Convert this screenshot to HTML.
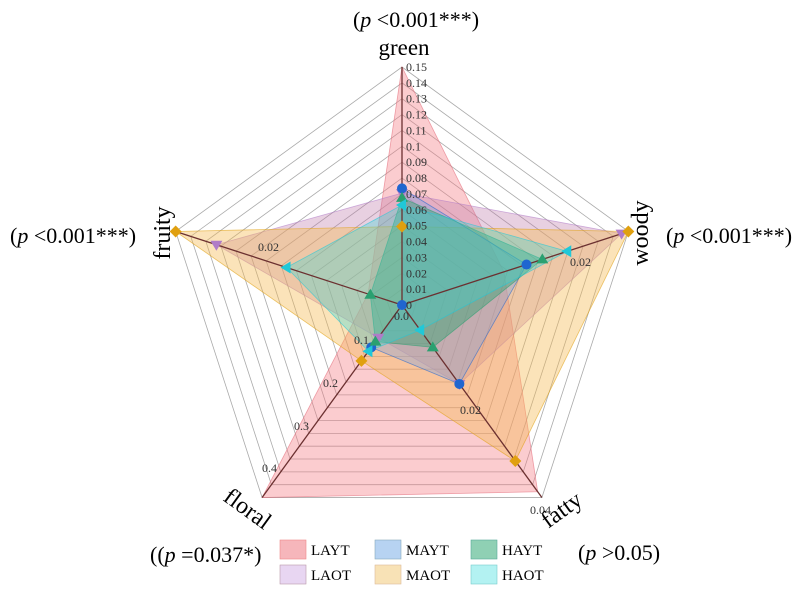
<!DOCTYPE html>
<html><head><meta charset="utf-8"><style>
body{margin:0;background:#fff;}
svg{display:block;font-family:"Liberation Serif",serif;}
</style></head><body>
<svg id="s" width="800" height="595" viewBox="0 0 800 595" xmlns="http://www.w3.org/2000/svg">
<g id="grid"></g><g id="series"></g><g id="marks"></g><g id="ticks" font-size="12" fill="#333"></g>
<g font-size="22" fill="#000">
<text x="416" y="27" text-anchor="middle">(<tspan font-style="italic">p</tspan> &lt;0.001***)</text>
<text x="404" y="55" text-anchor="middle" font-size="23">green</text>
<text transform="translate(648,233) rotate(-90)" text-anchor="middle" font-size="24">woody</text>
<text x="666" y="243">(<tspan font-style="italic">p</tspan> &lt;0.001***)</text>
<text transform="translate(170,233) rotate(-90)" text-anchor="middle" font-size="24">fruity</text>
<text x="10" y="243">(<tspan font-style="italic">p</tspan>  &lt;0.001***)</text>
<text transform="translate(243,515) rotate(36)" text-anchor="middle" font-size="24">floral</text>
<text x="150" y="562">((<tspan font-style="italic">p</tspan> =0.037*)</text>
<text transform="translate(566,516) rotate(-36)" text-anchor="middle" font-size="24">fatty</text>
<text x="578" y="560">(<tspan font-style="italic">p</tspan> &gt;0.05)</text>
</g>
<g font-size="15">
<rect x="280" y="540" width="26" height="19" fill="#f6b6bb" stroke="#e88" stroke-width="0.6"/><text x="311" y="555">LAYT</text>
<rect x="375" y="540" width="26" height="19" fill="#b7d3f2" stroke="#8ab" stroke-width="0.6"/><text x="406" y="555">MAYT</text>
<rect x="471" y="540" width="26" height="19" fill="#8fd0b4" stroke="#5a9" stroke-width="0.6"/><text x="502" y="555">HAYT</text>
<rect x="280" y="565" width="26" height="19" fill="#e8d6f2" stroke="#b9a" stroke-width="0.6"/><text x="311" y="580">LAOT</text>
<rect x="375" y="565" width="26" height="19" fill="#f8e2b6" stroke="#db9" stroke-width="0.6"/><text x="406" y="580">MAOT</text>
<rect x="471" y="565" width="26" height="19" fill="#b3f2f2" stroke="#7cc" stroke-width="0.6"/><text x="502" y="580">HAOT</text>
</g>
</svg>
<script>
const NS="http://www.w3.org/2000/svg",cx=402,cy=305,R=238;
const ang=[0,1,2,3,4].map(i=>-Math.PI/2+i*2*Math.PI/5);
function pt(i,f){return [cx+R*f*Math.cos(ang[i]),cy+R*f*Math.sin(ang[i])];}
function el(t,a,p){const e=document.createElementNS(NS,t);for(const k in a)e.setAttribute(k,a[k]);document.getElementById(p).appendChild(e);return e;}
for(let r=1;r<=15;r++){const f=r/15;el('polygon',{points:[0,1,2,3,4].map(i=>pt(i,f).join(',')).join(' '),fill:'none',stroke:'#aaa','stroke-width':0.8},'grid');}
const S=[
 ['LAYT','rgba(244,120,130,0.38)','#e46a7a','none',[1.0,0.45,0.97,1.0,0.15]],
 ['LAOT','rgba(190,120,170,0.35)','#b07cc8','tri-d',[0.47,0.97,0.41,0.17,0.82]],
 ['MAOT','rgba(245,185,80,0.40)','#e0a010','dia',[0.33,1.0,0.81,0.29,1.0]],
 ['MAYT','rgba(120,160,230,0.35)','#1f66d0','circ',[0.49,0.55,0.41,0.22,0.0]],
 ['HAYT','rgba(40,160,110,0.42)','#2aa070','tri-u',[0.45,0.62,0.22,0.19,0.14]],
 ['HAOT','rgba(60,215,215,0.35)','#20c8d8','tri-l',[0.42,0.73,0.13,0.24,0.51]],
];
S.forEach(s=>{el('polygon',{points:s[4].map((f,i)=>pt(i,f).join(',')).join(' '),fill:s[1],stroke:s[2],'stroke-width':0.8,'stroke-opacity':0.6},'series');});
for(let i=0;i<5;i++){const p=pt(i,1);el('line',{x1:cx,y1:cy,x2:p[0],y2:p[1],stroke:'#6b3030','stroke-width':1.3},'marks');}
S.forEach(s=>{if(s[3]==='none')return;s[4].forEach((f,i)=>{const [x,y]=pt(i,f);const c=s[2];let d;
 if(s[3]==='circ')el('circle',{cx:x,cy:y,r:5,fill:c},'marks');
 else{if(s[3]==='dia')d=`M${x},${y-6}L${x+6},${y}L${x},${y+6}L${x-6},${y}Z`;
 if(s[3]==='tri-u')d=`M${x},${y-6}L${x+6},${y+4}L${x-6},${y+4}Z`;
 if(s[3]==='tri-d')d=`M${x},${y+6}L${x+6},${y-4}L${x-6},${y-4}Z`;
 if(s[3]==='tri-l')d=`M${x-6},${y}L${x+4},${y-6}L${x+4},${y+6}Z`;
 el('path',{d:d,fill:c},'marks');}});});
function tx(x,y,t,a){const e=el('text',{x:x,y:y},'ticks');e.textContent=t;if(a)e.setAttribute('text-anchor',a);}
for(let k=0;k<=15;k++){const y=cy-R*k/15+4;tx(406,y,k==0?'0':(k==10?'0.1':(k/100).toFixed(2)));}
tx(570,266,'0.02');tx(258,251,'0.02');tx(460,414,'0.02');tx(530,514,'0.04');
tx(354,344,'0.1');tx(323,387,'0.2');tx(294,430,'0.3');tx(262,472,'0.4');tx(394,320,'0.0');
</script>
</body></html>
